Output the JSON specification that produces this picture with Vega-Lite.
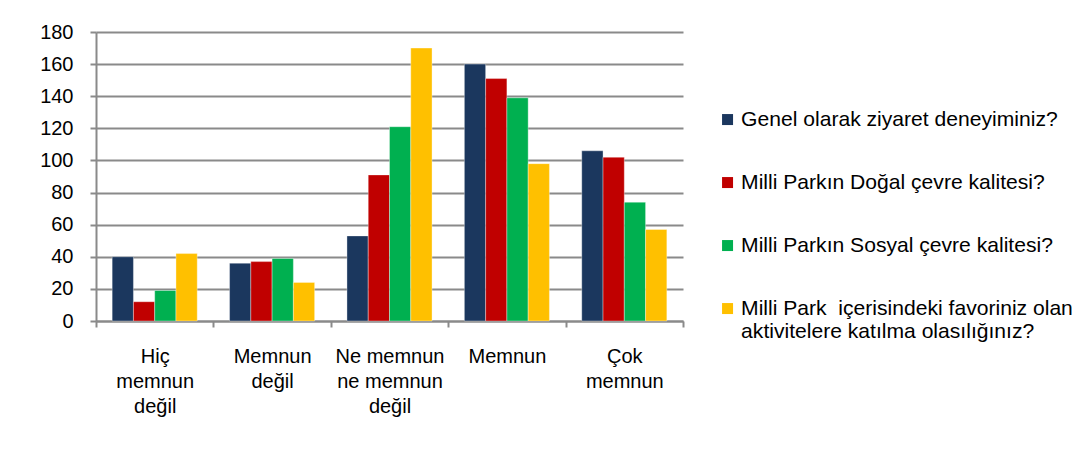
{
  "$schema": "https://vega.github.io/schema/vega-lite/v6.json",
  "width": 587,
  "height": 289,
  "autosize": "none",
  "padding": {"left": 96, "top": 32, "right": 409, "bottom": 129},
  "background": "white",
  "data": {
    "values": [
      {"kategori": "Hiç memnun değil", "soru": "Genel olarak ziyaret deneyiminiz?", "deger": 40},
      {"kategori": "Hiç memnun değil", "soru": "Milli Parkın Doğal çevre kalitesi?", "deger": 12},
      {"kategori": "Hiç memnun değil", "soru": "Milli Parkın Sosyal çevre kalitesi?", "deger": 19},
      {"kategori": "Hiç memnun değil", "soru": "Milli Park  içerisindeki favoriniz olan aktivitelere katılma olasılığınız?", "deger": 42},
      {"kategori": "Memnun değil", "soru": "Genel olarak ziyaret deneyiminiz?", "deger": 36},
      {"kategori": "Memnun değil", "soru": "Milli Parkın Doğal çevre kalitesi?", "deger": 37},
      {"kategori": "Memnun değil", "soru": "Milli Parkın Sosyal çevre kalitesi?", "deger": 39},
      {"kategori": "Memnun değil", "soru": "Milli Park  içerisindeki favoriniz olan aktivitelere katılma olasılığınız?", "deger": 24},
      {"kategori": "Ne memnun ne memnun değil", "soru": "Genel olarak ziyaret deneyiminiz?", "deger": 53},
      {"kategori": "Ne memnun ne memnun değil", "soru": "Milli Parkın Doğal çevre kalitesi?", "deger": 91},
      {"kategori": "Ne memnun ne memnun değil", "soru": "Milli Parkın Sosyal çevre kalitesi?", "deger": 121},
      {"kategori": "Ne memnun ne memnun değil", "soru": "Milli Park  içerisindeki favoriniz olan aktivitelere katılma olasılığınız?", "deger": 170},
      {"kategori": "Memnun", "soru": "Genel olarak ziyaret deneyiminiz?", "deger": 160},
      {"kategori": "Memnun", "soru": "Milli Parkın Doğal çevre kalitesi?", "deger": 151},
      {"kategori": "Memnun", "soru": "Milli Parkın Sosyal çevre kalitesi?", "deger": 139},
      {"kategori": "Memnun", "soru": "Milli Park  içerisindeki favoriniz olan aktivitelere katılma olasılığınız?", "deger": 98},
      {"kategori": "Çok memnun", "soru": "Genel olarak ziyaret deneyiminiz?", "deger": 106},
      {"kategori": "Çok memnun", "soru": "Milli Parkın Doğal çevre kalitesi?", "deger": 102},
      {"kategori": "Çok memnun", "soru": "Milli Parkın Sosyal çevre kalitesi?", "deger": 74},
      {"kategori": "Çok memnun", "soru": "Milli Park  içerisindeki favoriniz olan aktivitelere katılma olasılığınız?", "deger": 57}
    ]
  },
  "mark": {"type": "bar", "stroke": "#ffffff", "strokeWidth": 0.7, "strokeOpacity": 0.5},
  "encoding": {
    "x": {
      "field": "kategori",
      "type": "nominal",
      "sort": ["Hiç memnun değil", "Memnun değil", "Ne memnun ne memnun değil", "Memnun", "Çok memnun"],
      "scale": {"paddingInner": 0, "paddingOuter": 0},
      "axis": {
        "title": null,
        "labelAngle": 0,
        "labelFont": "Liberation Sans",
        "labelFontSize": 20,
        "labelColor": "#000000",
        "labelLineHeight": 25,
        "labelBaseline": "top",
        "labelPadding": 19,
        "labelLimit": 300,
        "labelExpr": "datum.value == null ? '' : datum.value == 'Ne memnun ne memnun değil' ? ['Ne memnun', 'ne memnun', 'değil'] : split(datum.value, ' ')",
        "tickBand": "extent",
        "tickSize": 6,
        "tickColor": "#8a8a8a",
        "tickWidth": 2,
        "domainColor": "#8a8a8a",
        "domainWidth": 2,
        "grid": false
      }
    },
    "xOffset": {
      "field": "soru",
      "type": "nominal",
      "sort": ["Genel olarak ziyaret deneyiminiz?", "Milli Parkın Doğal çevre kalitesi?", "Milli Parkın Sosyal çevre kalitesi?", "Milli Park  içerisindeki favoriniz olan aktivitelere katılma olasılığınız?"],
      "scale": {"paddingInner": 0, "paddingOuter": 0.76}
    },
    "y": {
      "field": "deger",
      "type": "quantitative",
      "scale": {"domain": [0, 180], "nice": false},
      "axis": {
        "title": null,
        "values": [0, 20, 40, 60, 80, 100, 120, 140, 160, 180],
        "labelFont": "Liberation Sans",
        "labelFontSize": 20,
        "labelColor": "#000000",
        "labelPadding": 17,
        "tickSize": 6,
        "tickColor": "#8a8a8a",
        "tickWidth": 2,
        "domainColor": "#8a8a8a",
        "domainWidth": 2,
        "gridColor": "#8a8a8a",
        "gridWidth": 2
      }
    },
    "color": {
      "field": "soru",
      "type": "nominal",
      "sort": ["Genel olarak ziyaret deneyiminiz?", "Milli Parkın Doğal çevre kalitesi?", "Milli Parkın Sosyal çevre kalitesi?", "Milli Park  içerisindeki favoriniz olan aktivitelere katılma olasılığınız?"],
      "scale": {
        "domain": ["Genel olarak ziyaret deneyiminiz?", "Milli Parkın Doğal çevre kalitesi?", "Milli Parkın Sosyal çevre kalitesi?", "Milli Park  içerisindeki favoriniz olan aktivitelere katılma olasılığınız?"],
        "range": ["#1b375e", "#c00000", "#00b050", "#ffc000"]
      },
      "legend": {
        "title": null,
        "orient": "none",
        "legendX": 621,
        "legendY": 77,
        "labelFont": "Liberation Sans",
        "labelFontSize": 21.1,
        "labelColor": "#000000",
        "labelLineHeight": 28,
        "labelLimit": 400,
        "labelOffset": 3,
        "labelExpr": "indexof(datum.label, 'aktivitelere') > 0 ? ['Milli Park \u00a0içerisindeki favoriniz olan', 'aktivitelere katılma olasılığınız?'] : datum.label",
        "symbolType": "square",
        "symbolSize": 121,
        "symbolStrokeWidth": 0,
        "rowPadding": 41,
        "encoding": {
          "labels": {"update": {"dy": {"signal": "indexof(datum.value, 'aktivitelere') > 0 ? 14 : 0"}}}
        }
      }
    }
  },
  "config": {"view": {"stroke": null}}
}
